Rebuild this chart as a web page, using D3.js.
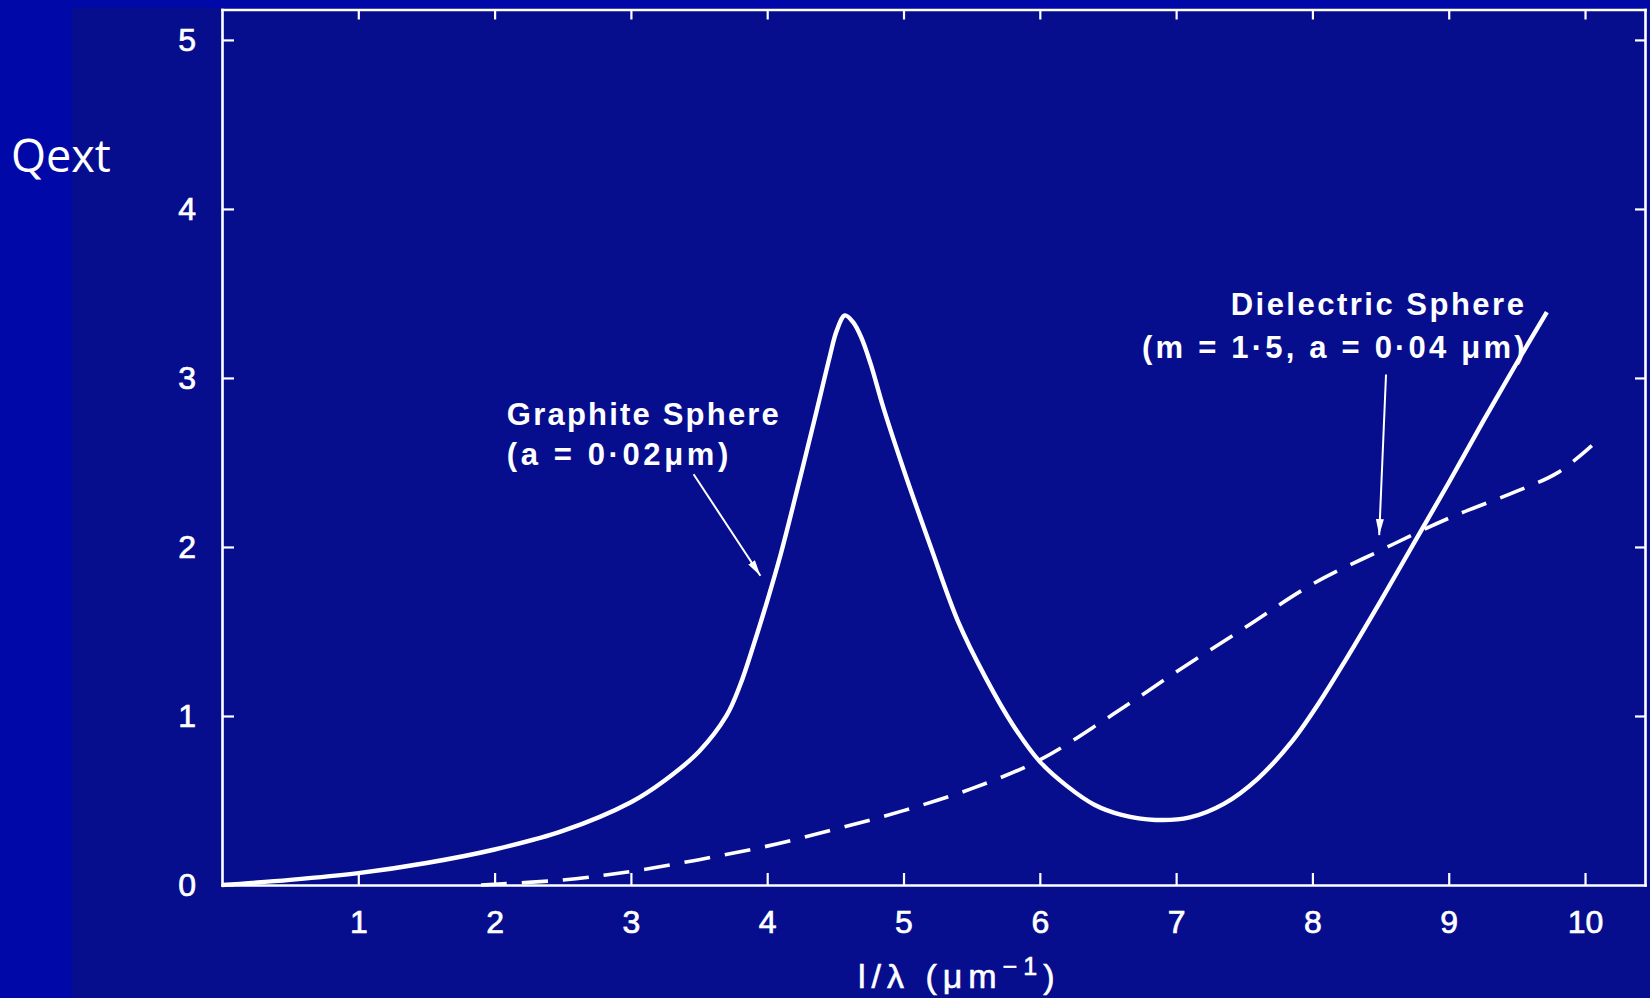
<!DOCTYPE html>
<html>
<head>
<meta charset="utf-8">
<script src="https://cdn.jsdelivr.net/npm/d3@7"></script>
<style>
  html, body { margin: 0; padding: 0; background: #0008a8; }
  svg { display: block; }
</style>
</head>
<body>
<svg id="chart" width="1650" height="998"></svg>
<script>
// Extinction efficiency Qext versus inverse wavelength for two small spheres.
const xTicks = [1, 2, 3, 4, 5, 6, 7, 8, 9, 10];
const yTicks = [0, 1, 2, 3, 4, 5];

// Graphite sphere (a = 0.02 µm): [1/λ, Qext]
const graphiteX = [0, 0.5, 1, 1.5, 2, 2.5, 3, 3.25, 3.5, 3.7, 3.8, 3.9, 4.0, 4.1, 4.22, 4.34, 4.40, 4.46, 4.51, 4.57, 4.63, 4.69, 4.76, 4.85, 5.0, 5.2, 5.4, 5.6, 5.8, 6.0, 6.2, 6.4, 6.6, 6.85, 7.1, 7.35, 7.6, 7.85, 8.05, 8.25, 8.5, 8.75, 9.0, 9.25, 9.5, 9.72];
const graphiteQ = [0, 0.03, 0.07, 0.13, 0.21, 0.32, 0.49, 0.62, 0.79, 1.0, 1.18, 1.42, 1.68, 1.96, 2.34, 2.73, 2.93, 3.13, 3.28, 3.37, 3.33, 3.24, 3.08, 2.83, 2.46, 2.0, 1.56, 1.23, 0.95, 0.73, 0.585, 0.475, 0.415, 0.385, 0.40, 0.48, 0.63, 0.85, 1.08, 1.34, 1.68, 2.03, 2.38, 2.74, 3.09, 3.39];

// Dielectric sphere (m = 1.5, a = 0.04 µm): [1/λ, Qext]
const dielectricX = [1.9, 2.5, 3.0, 3.5, 4.0, 4.5, 5.0, 5.5, 6.0, 6.5, 7.0, 7.5, 8.0, 8.5, 9.0, 9.5, 9.8, 10.05];
const dielectricQ = [0.0, 0.03, 0.08, 0.15, 0.23, 0.33, 0.44, 0.57, 0.74, 0.99, 1.26, 1.52, 1.78, 1.98, 2.17, 2.33, 2.44, 2.6];

const svg = d3.select("#chart");
const W = 1650, H = 998;
const ink = "#ffffff";
const outerBlue = "#0008a8";
const innerBlue = "#060e8e";

// Backgrounds: slide and the plate behind the plot
svg.append("rect").attr("width", W).attr("height", H).attr("fill", outerBlue);
svg.append("rect").attr("x", 72).attr("y", 8).attr("width", W - 72).attr("height", H - 8).attr("fill", innerBlue);

const x = d3.scaleLinear().domain([0, 10.44]).range([222, 1645]);
const y = d3.scaleLinear().domain([0, 5.18]).range([885, 9.5]);

const axisFont = "'Liberation Sans', Arial, Helvetica, sans-serif";

function styleAxis(g) {
  g.select(".domain").attr("stroke", ink).attr("stroke-width", 2.6);
  g.selectAll(".tick line").attr("stroke", ink).attr("stroke-width", 2.2);
  g.selectAll(".tick text")
    .attr("fill", ink)
    .attr("stroke", ink)
    .attr("stroke-width", 0.7)
    .style("font-family", axisFont)
    .style("font-size", "32px");
}

// Bottom axis (ticks point inward)
svg.append("g")
  .attr("transform", `translate(0,${y(0)})`)
  .call(d3.axisBottom(x).tickValues(xTicks).tickFormat(d3.format("d")).tickSizeInner(-12).tickSizeOuter(0).tickPadding(25))
  .call(styleAxis);

// Left axis
svg.append("g")
  .attr("transform", `translate(${x(0)},0)`)
  .call(d3.axisLeft(y).tickValues(yTicks).tickFormat(d3.format("d")).tickSizeInner(-12).tickSizeOuter(0).tickPadding(26))
  .call(styleAxis);

// Top and right frame edges with inward ticks, no labels
svg.append("g")
  .attr("transform", `translate(0,${y.range()[1]})`)
  .call(d3.axisTop(x).tickValues(xTicks).tickFormat("").tickSizeInner(-10).tickSizeOuter(0))
  .call(styleAxis);

svg.append("g")
  .attr("transform", `translate(${x.range()[1]},0)`)
  .call(d3.axisRight(y).tickValues(yTicks.filter(d => d > 0)).tickFormat("").tickSizeInner(-10).tickSizeOuter(0))
  .call(styleAxis);

svg.selectAll(".domain").attr("stroke-linecap", "square");

// Curves
const line = d3.line()
  .x(d => x(d[0]))
  .y(d => y(d[1]))
  .curve(d3.curveCatmullRom.alpha(0.5));

const graphite = graphiteX.map((v, i) => [v, graphiteQ[i]]);
const dielectric = dielectricX.map((v, i) => [v, dielectricQ[i]]);

svg.append("path")
  .datum(dielectric)
  .attr("d", line)
  .attr("fill", "none")
  .attr("stroke", ink)
  .attr("stroke-width", 3.6)
  .attr("stroke-dasharray", "26,15");

svg.append("path")
  .datum(graphite)
  .attr("d", line)
  .attr("fill", "none")
  .attr("stroke", ink)
  .attr("stroke-width", 4.4)
  .attr("stroke-linejoin", "round");

// Arrowhead marker
svg.append("defs").append("marker")
  .attr("id", "arrow")
  .attr("viewBox", "0 0 16 8")
  .attr("refX", 16).attr("refY", 4)
  .attr("markerUnits", "userSpaceOnUse")
  .attr("markerWidth", 16).attr("markerHeight", 8)
  .attr("orient", "auto")
  .append("path")
  .attr("d", "M0,0 L16,4 L0,8 Z")
  .attr("fill", ink);

// Annotation labels and pointers
const labelFont = "'Liberation Sans', Arial, Helvetica, sans-serif";
function label(txt, xv, yv, spacing) {
  svg.append("text")
    .attr("x", x(xv)).attr("y", y(yv))
    .attr("fill", ink)
    .style("font-family", labelFont)
    .style("font-weight", "bold")
    .style("font-size", "31px")
    .style("letter-spacing", spacing + "px")
    .text(txt);
}
label("Graphite Sphere", 2.09, 2.72, 2.2);
label("(a = 0\u00b702\u03bcm)", 2.09, 2.485, 3.6);
label("Dielectric Sphere", 7.40, 3.37, 2.5);
label("(m = 1\u00b75, a = 0\u00b704 \u03bcm)", 6.75, 3.12, 3.2);

function pointer(x0, y0, x1, y1) {
  svg.append("line")
    .attr("x1", x(x0)).attr("y1", y(y0))
    .attr("x2", x(x1)).attr("y2", y(y1))
    .attr("stroke", ink)
    .attr("stroke-width", 2)
    .attr("marker-end", "url(#arrow)");
}
pointer(3.46, 2.43, 3.95, 1.83);
pointer(8.54, 3.02, 8.49, 2.07);

// Axis titles
const xTitle = svg.append("text")
  .attr("x", 858).attr("y", 988)
  .attr("fill", ink)
  .attr("stroke", ink).attr("stroke-width", 0.6)
  .style("font-family", axisFont)
  .style("font-size", "34px")
  .style("letter-spacing", "6px");
xTitle.append("tspan").text("l/\u03bb (\u03bcm");
xTitle.append("tspan").attr("dy", -13).style("font-size", "25px").text("\u22121");
xTitle.append("tspan").attr("dy", 13).text(")");

svg.append("text")
  .attr("x", 11).attr("y", 172)
  .attr("fill", ink)
  .style("font-family", "'Open Sans', 'Noto Sans', sans-serif")
  .style("font-size", "45px")
  .text("Qext");
</script>
</body>
</html>
